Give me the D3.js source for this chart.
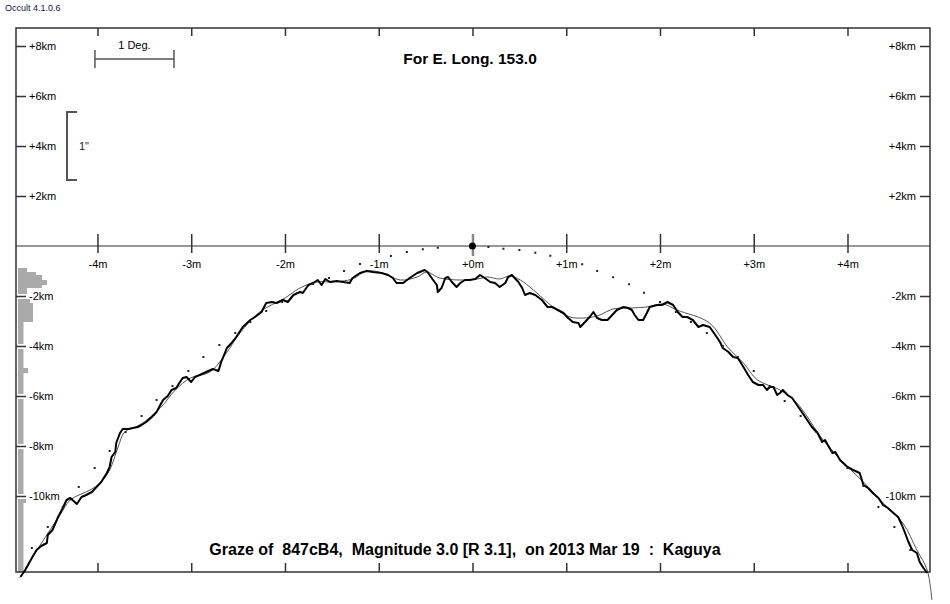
<!DOCTYPE html>
<html lang="en">
<head>
    <meta charset="UTF-8">
    <title>Graze profile</title>
    <script src="https://d3js.org/d3.v7.min.js"></script>
    <style>
        body { margin: 0; background: #fff; }
        svg text { font-family: "Liberation Sans", Arial, sans-serif; }
    </style>
</head>
<body>
<svg id="chart" width="950" height="604"></svg>
<script>
    // minutes of time along the track, km normal to it
    var xTicks = [-4, -3, -2, -1, 0, 1, 2, 3, 4];
    var yTicks = [8, 6, 4, 2, -2, -4, -6, -8, -10];

    // observed limb profile (thick line)
    var profM = [-4.82, -4.77, -4.70, -4.65, -4.60, -4.54, -4.53, -4.48, -4.42, -4.37, -4.33, -4.29, -4.22, -4.17,
        -4.12, -4.06, -4.01, -3.96, -3.90, -3.87, -3.85, -3.81, -3.80, -3.76, -3.73, -3.67, -3.62, -3.57, -3.53,
        -3.48, -3.42, -3.37, -3.33, -3.30, -3.25, -3.21, -3.16, -3.12, -3.09, -3.05, -3.00, -2.96, -2.91, -2.84,
        -2.77, -2.71, -2.68, -2.62, -2.57, -2.52, -2.45, -2.37, -2.32, -2.25, -2.20, -2.14, -2.09, -2.02, -1.97,
        -1.91, -1.84, -1.81, -1.75, -1.70, -1.65, -1.61, -1.57, -1.52, -1.45, -1.38, -1.31, -1.28, -1.20, -1.13,
        -1.06, -0.97, -0.90, -0.85, -0.81, -0.74, -0.67, -0.59, -0.51, -0.48, -0.42, -0.38, -0.37, -0.33, -0.29,
        -0.26, -0.22, -0.17, -0.13, -0.08, -0.03, 0.03, 0.08, 0.13, 0.19, 0.24, 0.29, 0.35, 0.38, 0.42, 0.45,
        0.49, 0.53, 0.56, 0.61, 0.67, 0.74, 0.80, 0.85, 0.91, 0.97, 1.02, 1.07, 1.13, 1.15, 1.20, 1.25, 1.29,
        1.33, 1.38, 1.44, 1.49, 1.54, 1.61, 1.66, 1.70, 1.73, 1.77, 1.82, 1.86, 1.89, 1.97, 2.02, 2.08, 2.14,
        2.19, 2.24, 2.29, 2.35, 2.41, 2.46, 2.53, 2.59, 2.64, 2.67, 2.73, 2.78, 2.83, 2.89, 2.94, 2.99, 3.05,
        3.10, 3.14, 3.17, 3.21, 3.25, 3.28, 3.31, 3.36, 3.41, 3.46, 3.52, 3.57, 3.62, 3.68, 3.73, 3.76, 3.79,
        3.84, 3.87, 3.92, 4.00, 4.06, 4.13, 4.17, 4.22, 4.27, 4.33, 4.38, 4.43, 4.49, 4.54, 4.58, 4.61, 4.65,
        4.69, 4.74, 4.77, 4.81, 4.85];
    var profKm = [-13.23, -12.96, -12.48, -12.16, -12.00, -11.88, -11.56, -11.36, -10.84, -10.48, -10.16, -10.08,
        -10.32, -10.04, -9.96, -9.84, -9.64, -9.44, -9.08, -8.84, -8.44, -8.24, -7.88, -7.48, -7.32, -7.32, -7.28,
        -7.24, -7.16, -7.04, -6.84, -6.64, -6.36, -6.16, -6.00, -5.76, -5.68, -5.44, -5.28, -5.24, -5.44, -5.24,
        -5.16, -5.04, -4.92, -5.00, -4.64, -4.08, -3.88, -3.64, -3.24, -2.96, -2.84, -2.64, -2.28, -2.24, -2.28,
        -2.16, -2.24, -1.96, -1.84, -1.88, -1.56, -1.48, -1.36, -1.56, -1.32, -1.44, -1.40, -1.44, -1.48, -1.28,
        -1.08, -1.00, -1.04, -1.08, -1.16, -1.28, -1.48, -1.48, -1.28, -1.08, -0.96, -1.04, -1.36, -1.56, -1.84,
        -1.68, -1.28, -1.24, -1.44, -1.64, -1.48, -1.36, -1.36, -1.32, -1.16, -1.28, -1.44, -1.48, -1.64, -1.48,
        -1.24, -1.16, -1.28, -1.44, -1.68, -1.96, -1.88, -1.96, -2.16, -2.44, -2.44, -2.56, -2.68, -2.88, -3.04,
        -3.08, -3.24, -3.04, -2.84, -2.64, -2.88, -2.96, -2.96, -2.76, -2.56, -2.44, -2.48, -2.56, -2.76, -2.96,
        -2.96, -2.68, -2.44, -2.36, -2.36, -2.24, -2.36, -2.64, -2.84, -2.84, -2.96, -3.24, -3.16, -3.24, -3.56,
        -3.84, -4.08, -4.24, -4.44, -4.48, -4.84, -5.16, -5.44, -5.56, -5.56, -5.76, -5.64, -5.64, -5.96, -5.88,
        -5.76, -5.96, -6.08, -6.36, -6.68, -6.96, -7.24, -7.48, -7.84, -7.76, -7.96, -8.28, -8.24, -8.56, -8.84,
        -8.96, -9.08, -9.56, -9.68, -9.88, -10.08, -10.36, -10.48, -10.68, -10.84, -11.16, -11.44, -11.84, -12.16,
        -12.28, -12.64, -12.88, -13.08];

    // smoothed limb (thin line)
    var smoothM = [-4.83, -4.61, -4.40, -4.29, -4.08, -3.97, -3.87, -3.78, -3.71, -3.55, -3.33, -3.17, -3.01, -2.80,
        -2.64, -2.48, -2.27, -2.00, -1.84, -1.66, -1.49, -1.28, -1.13, -0.96, -0.77, -0.59, -0.49, -0.35, -0.13,
        0.05, 0.16, 0.29, 0.40, 0.51, 0.65, 0.86, 1.04, 1.18, 1.33, 1.50, 1.68, 1.86, 2.03, 2.18, 2.53, 2.72,
        2.89, 3.04, 3.28, 3.46, 3.74, 3.95, 4.17, 4.38, 4.59, 4.74, 4.85, 4.90];
    var smoothKm = [-13.28, -11.96, -10.76, -10.16, -9.76, -9.48, -8.96, -8.04, -7.44, -7.16, -6.48, -5.76, -5.28,
        -5.04, -4.36, -3.48, -2.64, -2.08, -1.68, -1.44, -1.44, -1.32, -1.00, -1.08, -1.36, -1.24, -1.04, -1.28,
        -1.36, -1.32, -1.24, -1.32, -1.20, -1.36, -1.76, -2.44, -2.84, -2.88, -2.80, -2.52, -2.48, -2.44, -2.32,
        -2.56, -3.08, -4.04, -4.68, -5.36, -5.76, -6.28, -7.76, -8.64, -9.44, -10.28, -11.08, -12.16, -12.96, -14.16];

    // predicted limb points
    var dotM = [-4.70, -4.53, -4.37, -4.20, -4.03, -3.87, -3.70, -3.53, -3.37, -3.20, -3.03, -2.87, -2.70, -2.53,
        -2.37, -2.20, -2.03, -1.87, -1.70, -1.53, -1.37, -1.20, -0.87, -0.70, -0.53, -0.37, 0.17, 0.33,
        0.50, 0.67, 0.83, 1.17, 1.33, 1.50, 1.67, 1.83, 2.00, 2.17, 2.33, 2.50, 2.67, 2.83, 3.00, 3.17,
        3.33, 3.50, 3.67, 3.83, 4.00, 4.17, 4.33, 4.50, 4.67];
    var dotKm = [-12.08, -11.24, -10.44, -9.64, -8.88, -8.20, -7.44, -6.80, -6.16, -5.60, -5.00, -4.44, -3.96, -3.48,
        -3.04, -2.60, -2.24, -1.88, -1.52, -1.28, -1.00, -0.72, -0.40, -0.24, -0.13, -0.07, -0.04, -0.11,
        -0.16, -0.27, -0.39, -0.73, -1.00, -1.25, -1.53, -1.87, -2.24, -2.64, -3.04, -3.48, -4.00, -4.44,
        -5.00, -5.60, -6.20, -6.80, -7.44, -8.20, -8.88, -9.60, -10.44, -11.24, -12.16];

    // distribution of profile heights (left margin)
    var histTop = [-0.88, -1.04, -1.16, -1.36, -1.56, -1.68, -2.08, -2.28, -3.04, -4.88, -5.08, -10.08, -10.28];
    var histBottom = [-1.04, -1.16, -1.36, -1.56, -1.68, -2.08, -2.28, -3.04, -4.88, -5.08, -10.08, -10.28, -13.04];
    var histCount = [9, 18, 24, 29, 24, 9, 12, 15, 5.5, 10, 5.5, 8, 5.5];

    // scale markers
    var degBar = {m0: -4.027, m1: -3.184, km: 7.48};
    var arcBar = {m: -4.325, km0: 5.36, km1: 2.64};

    var titleText = "For E. Long. 153.0";
    var footText = "Graze of  847cB4,  Magnitude 3.0 [R 3.1],  on 2013 Mar 19  :  Kaguya";

    var frameL = 16, frameR = 930, frameT = 28, frameB = 572;
    var svg = d3.select("#chart");

    var x = d3.scaleLinear().domain([-4.869, 4.88]).range([frameL, frameR]);
    var y = d3.scaleLinear().domain([-13.04, 8.72]).range([frameB, frameT]);
    var hx = d3.scaleLinear().domain([0, 30]).range([18, 48]);

    function fmtM(d) { return (d >= 0 ? "+" : "-") + Math.abs(d) + "m"; }
    function fmtKm(d) { return (d >= 0 ? "+" : "-") + Math.abs(d) + "km"; }

    // histogram
    svg.append("g").selectAll("rect")
        .data(histCount)
        .enter().append("rect")
        .attr("x", hx(0))
        .attr("y", function (d, i) { return y(histTop[i]); })
        .attr("width", function (d) { return hx(d) - hx(0); })
        .attr("height", function (d, i) { return y(histBottom[i]) - y(histTop[i]); })
        .attr("fill", "#aaaaaa");

    // frame
    svg.append("rect")
        .attr("x", frameL).attr("y", frameT)
        .attr("width", frameR - frameL).attr("height", frameB - frameT)
        .attr("fill", "none").attr("stroke", "#333").attr("stroke-width", 1.5);
    svg.append("line")
        .attr("x1", frameL).attr("x2", frameR)
        .attr("y1", y(0)).attr("y2", y(0))
        .attr("stroke", "#333").attr("stroke-width", 1.2);

    // top and bottom frame ticks
    svg.append("g")
        .attr("transform", "translate(0," + frameT + ")")
        .call(d3.axisBottom(x).tickValues(xTicks).tickSize(8).tickFormat(""))
        .call(function (g) { g.select(".domain").remove(); });
    svg.append("g")
        .attr("transform", "translate(0," + frameB + ")")
        .call(d3.axisTop(x).tickValues(xTicks).tickSize(9).tickFormat(""))
        .call(function (g) { g.select(".domain").remove(); });

    // time axis on the zero line
    var xAxis = svg.append("g")
        .attr("transform", "translate(0," + y(0) + ")")
        .call(d3.axisBottom(x).tickValues(xTicks).tickSize(7).tickPadding(7).tickFormat(fmtM))
        .call(function (g) { g.select(".domain").remove(); });

    // km axes
    var yLeft = svg.append("g")
        .attr("transform", "translate(" + frameL + ",0)")
        .call(d3.axisRight(y).tickValues(yTicks).tickSize(10).tickPadding(3).tickFormat(fmtKm))
        .call(function (g) { g.select(".domain").remove(); });
    svg.append("g")
        .attr("transform", "translate(" + frameR + ",0)")
        .call(d3.axisLeft(y).tickValues(yTicks).tickSize(10).tickPadding(4).tickFormat(fmtKm))
        .call(function (g) { g.select(".domain").remove(); });

    svg.selectAll(".tick line").attr("stroke", "#333").attr("stroke-width", 1.5);
    svg.selectAll(".tick text")
        .attr("font-size", 11)
        .attr("font-family", "'Liberation Sans', Arial, sans-serif")
        .attr("fill", "#000");
    xAxis.selectAll(".tick line")
        .attr("y1", -12)
        .attr("stroke", function (d) { return d === 0 ? "#888" : "#333"; })
        .attr("stroke-width", function (d) { return d === 0 ? 2.5 : 1.5; })
        .attr("y2", function (d) { return d === 0 ? 10 : 7; });
    // white breaks in the histogram at the km ticks
    yLeft.selectAll(".tick").filter(function (d) { return d < 0; })
        .insert("line", ":first-child")
        .attr("x1", 1).attr("x2", 34)
        .attr("stroke", "#fff").attr("stroke-width", 5);

    // smoothed and observed profiles
    var line = d3.line()
        .x(function (d) { return x(d[0]); })
        .y(function (d) { return y(d[1]); });
    svg.append("path")
        .datum(d3.zip(smoothM, smoothKm))
        .attr("d", line.curve(d3.curveCatmullRom))
        .attr("fill", "none").attr("stroke", "#555").attr("stroke-width", 1);
    svg.append("path")
        .datum(d3.zip(profM, profKm))
        .attr("d", line.curve(d3.curveLinear))
        .attr("fill", "none").attr("stroke", "#000").attr("stroke-width", 2)
        .attr("stroke-linejoin", "round");

    // limb points
    svg.append("g").selectAll("rect")
        .data(d3.zip(dotM, dotKm))
        .enter().append("rect")
        .attr("x", function (d) { return x(d[0]) - 1; })
        .attr("y", function (d) { return y(d[1]) - 1; })
        .attr("width", 2).attr("height", 2)
        .attr("fill", "#222");
    svg.append("circle")
        .attr("cx", x(0)).attr("cy", y(0)).attr("r", 3.5)
        .attr("fill", "#000");

    // scale markers
    var bar = svg.append("g").attr("stroke", "#555").attr("stroke-width", 1.5).attr("fill", "none");
    bar.append("line")
        .attr("x1", x(degBar.m0)).attr("x2", x(degBar.m1))
        .attr("y1", y(degBar.km)).attr("y2", y(degBar.km));
    [degBar.m0, degBar.m1].forEach(function (m) {
        bar.append("line")
            .attr("x1", x(m)).attr("x2", x(m))
            .attr("y1", y(degBar.km) - 9).attr("y2", y(degBar.km) + 9);
    });
    bar.append("path")
        .attr("d", "M" + (x(arcBar.m) + 10) + "," + y(arcBar.km0) +
            "H" + x(arcBar.m) + "V" + y(arcBar.km1) + "H" + (x(arcBar.m) + 10))
        .attr("stroke-width", 2);
    svg.append("text")
        .attr("x", (x(degBar.m0) + x(degBar.m1)) / 2).attr("y", y(degBar.km) - 10)
        .attr("text-anchor", "middle").attr("font-size", 11)
        .text("1 Deg.");
    svg.append("text")
        .attr("x", x(arcBar.m) + 12).attr("y", (y(arcBar.km0) + y(arcBar.km1)) / 2 + 4)
        .attr("font-size", 11).attr("fill", "#222")
        .text("1\"");

    // titles
    svg.append("text")
        .attr("x", 470).attr("y", 64)
        .attr("text-anchor", "middle").attr("font-size", 15.5).attr("font-weight", "bold")
        .text(titleText);
    svg.append("text")
        .attr("x", 465).attr("y", 555)
        .attr("text-anchor", "middle").attr("font-size", 16).attr("font-weight", "bold")
        .style("white-space", "pre")
        .text(footText);
    svg.append("text")
        .attr("x", 5).attr("y", 11)
        .attr("font-size", 9).attr("fill", "#10104a")
        .text("Occult 4.1.0.6");
</script>
</body>
</html>
